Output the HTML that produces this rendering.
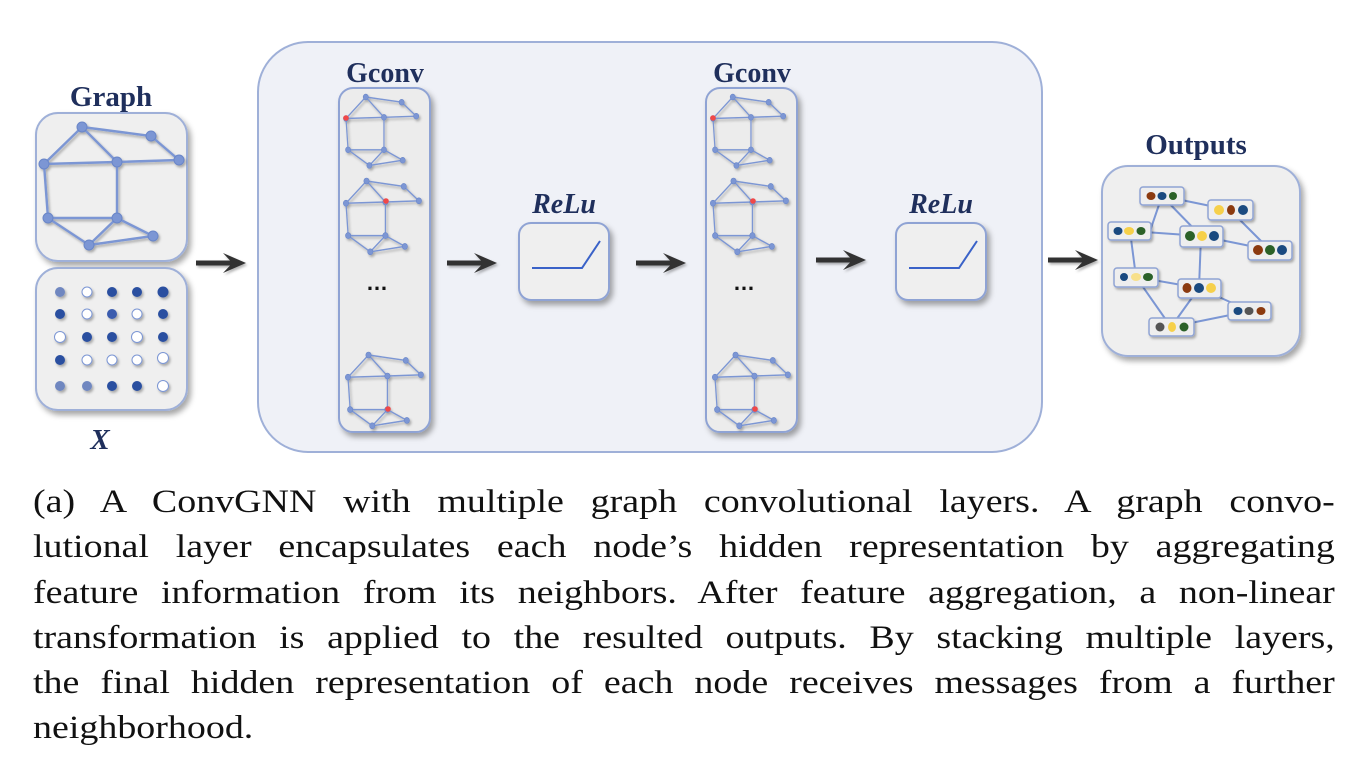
<!DOCTYPE html>
<html><head><meta charset="utf-8"><style>
body{margin:0;background:#fff;width:1358px;height:758px;overflow:hidden;position:relative}
.cap{position:absolute;left:33px;width:1132px;font-family:"Liberation Serif",serif;font-size:33px;color:#111;line-height:45.3px;transform:scaleX(1.15);transform-origin:0 0}
.cap div{text-align:justify;text-align-last:justify;height:45.3px;white-space:nowrap}
.cap div.last{text-align-last:left}
</style></head><body>
<svg width="1358" height="480" style="position:absolute;left:0;top:0" xmlns="http://www.w3.org/2000/svg">
<defs>
<filter id="sh" x="-20%" y="-20%" width="140%" height="140%"><feDropShadow dx="3" dy="4" stdDeviation="3" flood-color="#000" flood-opacity="0.35"/></filter>
<filter id="ns" x="-50%" y="-50%" width="200%" height="200%"><feDropShadow dx="1.5" dy="2" stdDeviation="1.2" flood-color="#000" flood-opacity="0.3"/></filter>
<g id="g">
<g stroke="#7b96d4" stroke-width="2.4" fill="none">
<polyline points="82,127 151,136 179,160 117,162 44,164 82,127 117,162 117,218 48,218 44,164"/>
<polyline points="48,218 89,245 117,218 153,236 89,245"/>
</g>
<g fill="#7b96d4" stroke="#6a86c8" stroke-width="1">
<circle cx="82" cy="127" r="5"/><circle cx="151" cy="136" r="5"/><circle cx="179" cy="160" r="5"/><circle cx="117" cy="162" r="5"/><circle cx="44" cy="164" r="5"/><circle cx="48" cy="218" r="5"/><circle cx="117" cy="218" r="5"/><circle cx="153" cy="236" r="5"/><circle cx="89" cy="245" r="5"/>
</g></g>
<g id="arr"><path d="M0,-2.5 L34,-2.5 L27,-10 L50,0 L27,10 L34,2.5 L0,2.5 Z" fill="#333" filter="url(#ns)"/></g>
</defs>
<rect x="258" y="42" width="784" height="410" rx="50" fill="#eff1f7" stroke="#9fb0d8" stroke-width="2"/>
<text x="111" y="106" font-family="Liberation Serif,serif" font-weight="bold" font-size="29" fill="#1f2f5c" text-anchor="middle">Graph</text>
<rect x="36" y="113" width="151" height="148" rx="22" fill="#efefef" stroke="#9fb0d8" stroke-width="2" filter="url(#sh)"/>
<use href="#g" filter="url(#ns)"/>
<rect x="36" y="268" width="151" height="142" rx="22" fill="#efefef" stroke="#9fb0d8" stroke-width="2" filter="url(#sh)"/>
<g filter="url(#ns)">
<circle cx="60" cy="292" r="5" fill="#6f87c0"/><circle cx="87" cy="292" r="5" fill="#fff" stroke="#7b96d4"/><circle cx="112" cy="292" r="5" fill="#2b4fa0"/><circle cx="137" cy="292" r="5" fill="#2b4fa0"/><circle cx="163" cy="292" r="5.5" fill="#2b4fa0"/>
<circle cx="60" cy="314" r="5" fill="#2b4fa0"/><circle cx="87" cy="314" r="5" fill="#fff" stroke="#7b96d4"/><circle cx="112" cy="314" r="5" fill="#3a5cae"/><circle cx="137" cy="314" r="5" fill="#fff" stroke="#7b96d4"/><circle cx="163" cy="314" r="5" fill="#2b4fa0"/>
<circle cx="60" cy="337" r="5.5" fill="#fff" stroke="#7b96d4"/><circle cx="87" cy="337" r="5" fill="#2b4fa0"/><circle cx="112" cy="337" r="5" fill="#2b4fa0"/><circle cx="137" cy="337" r="5.5" fill="#fff" stroke="#7b96d4"/><circle cx="163" cy="337" r="5" fill="#2b4fa0"/>
<circle cx="60" cy="360" r="5" fill="#2b4fa0"/><circle cx="87" cy="360" r="5" fill="#fff" stroke="#7b96d4"/><circle cx="112" cy="360" r="5" fill="#fff" stroke="#7b96d4"/><circle cx="137" cy="360" r="5" fill="#fff" stroke="#7b96d4"/><circle cx="163" cy="358" r="5.5" fill="#fff" stroke="#7b96d4"/>
<circle cx="60" cy="386" r="5" fill="#6f87c0"/><circle cx="87" cy="386" r="5" fill="#6f87c0"/><circle cx="112" cy="386" r="5" fill="#2b4fa0"/><circle cx="137" cy="386" r="5" fill="#2b4fa0"/><circle cx="163" cy="386" r="5.5" fill="#fff" stroke="#7b96d4"/>
</g>
<text x="100" y="449" font-family="Liberation Serif,serif" font-weight="bold" font-style="italic" font-size="29" fill="#1f2f5c" text-anchor="middle">X</text>
<use href="#arr" x="196" y="263"/><use href="#arr" x="447" y="263"/><use href="#arr" x="636" y="263"/><use href="#arr" x="816" y="260"/><use href="#arr" x="1048" y="260"/>
<g id="col">
<text x="385" y="82" font-family="Liberation Serif,serif" font-weight="bold" font-size="28" fill="#1f2f5c" text-anchor="middle">Gconv</text>
<rect x="339" y="88" width="91" height="344" rx="14" fill="#ececec" stroke="#8fa3d4" stroke-width="2" filter="url(#sh)"/>
<g filter="url(#ns)">
<use href="#g" transform="translate(346,97) scale(0.52,0.58) translate(-44,-127)"/>
<use href="#g" transform="translate(346,181) scale(0.54,0.6) translate(-44,-127)"/>
<use href="#g" transform="translate(348,355) scale(0.54,0.6) translate(-44,-127)"/>
</g>
<circle cx="346" cy="118" r="2.8" fill="#f04848"/>
<circle cx="386" cy="201" r="2.8" fill="#f04848"/>
<circle cx="388" cy="409" r="2.8" fill="#f04848"/>
<text x="377" y="290" font-family="Liberation Sans,sans-serif" font-weight="bold" font-size="22" fill="#111" text-anchor="middle">…</text>
</g>
<use href="#col" x="367"/>
<g id="relu">
<text x="564" y="213" font-family="Liberation Serif,serif" font-weight="bold" font-style="italic" font-size="28" fill="#1f2f5c" text-anchor="middle">ReLu</text>
<rect x="519" y="223" width="90" height="77" rx="12" fill="#efefef" stroke="#8fa3d4" stroke-width="2" filter="url(#sh)"/>
<polyline points="532,268 582,268 600,241" fill="none" stroke="#3a62c8" stroke-width="2"/>
</g>
<use href="#relu" x="377"/>
<text x="1196" y="154" font-family="Liberation Serif,serif" font-weight="bold" font-size="29" fill="#1f2f5c" text-anchor="middle">Outputs</text>
<rect x="1102" y="166" width="198" height="190" rx="26" fill="#efefef" stroke="#9fb0d8" stroke-width="2" filter="url(#sh)"/>
<g stroke="#7b96d4" stroke-width="2" fill="none">
<line x1="1162" y1="196" x2="1230" y2="210"/><line x1="1162" y1="196" x2="1150" y2="231"/><line x1="1162" y1="196" x2="1201" y2="236"/>
<line x1="1130" y1="231" x2="1201" y2="236"/><line x1="1201" y1="236" x2="1270" y2="250"/><line x1="1230" y1="210" x2="1270" y2="250"/>
<line x1="1130" y1="231" x2="1136" y2="277"/><line x1="1136" y1="277" x2="1199" y2="288"/><line x1="1201" y1="236" x2="1199" y2="288"/>
<line x1="1136" y1="277" x2="1171" y2="327"/><line x1="1199" y1="288" x2="1171" y2="327"/><line x1="1171" y1="327" x2="1250" y2="311"/><line x1="1199" y1="288" x2="1250" y2="311"/>
</g>
<g stroke="#8fa3d4" stroke-width="1.5" fill="#eee" filter="url(#ns)">
<rect x="1140" y="187" width="44" height="18" rx="3"/><rect x="1208" y="200" width="45" height="20" rx="3"/><rect x="1108" y="222" width="43" height="18" rx="3"/>
<rect x="1180" y="226" width="43" height="21" rx="3"/><rect x="1248" y="241" width="44" height="19" rx="3"/><rect x="1114" y="268" width="44" height="19" rx="3"/>
<rect x="1178" y="279" width="43" height="19" rx="3"/><rect x="1228" y="302" width="43" height="18" rx="3"/><rect x="1149" y="318" width="45" height="18" rx="3"/>
</g>
<g>
<ellipse cx="1151" cy="196" rx="4.5" ry="4" fill="#8b3a0f"/><ellipse cx="1162" cy="196" rx="4.5" ry="4" fill="#1a4a80"/><ellipse cx="1173" cy="196" rx="4" ry="4" fill="#2b6128"/>
<ellipse cx="1219" cy="210" rx="5" ry="5" fill="#f6d04a"/><ellipse cx="1231" cy="210" rx="4" ry="5" fill="#8b3a0f"/><ellipse cx="1243" cy="210" rx="5" ry="5" fill="#1a4a80"/>
<ellipse cx="1118" cy="231" rx="4.5" ry="4" fill="#1a4a80"/><ellipse cx="1129" cy="231" rx="5" ry="4" fill="#f6d04a"/><ellipse cx="1141" cy="231" rx="4.5" ry="4" fill="#2b6128"/>
<ellipse cx="1190" cy="236" rx="5" ry="5" fill="#2b6128"/><ellipse cx="1202" cy="236" rx="5" ry="5" fill="#f6d04a"/><ellipse cx="1214" cy="236" rx="5" ry="5" fill="#1a4a80"/>
<ellipse cx="1258" cy="250" rx="5" ry="5" fill="#8b3a0f"/><ellipse cx="1270" cy="250" rx="5" ry="5" fill="#2b6128"/><ellipse cx="1282" cy="250" rx="5" ry="5" fill="#1a4a80"/>
<ellipse cx="1124" cy="277" rx="4" ry="4" fill="#1a4a80"/><ellipse cx="1136" cy="277" rx="5" ry="4" fill="#f8e08a"/><ellipse cx="1148" cy="277" rx="5" ry="4" fill="#2b6128"/>
<ellipse cx="1187" cy="288" rx="4.5" ry="5" fill="#8b3a0f"/><ellipse cx="1199" cy="288" rx="5" ry="5" fill="#1a4a80"/><ellipse cx="1211" cy="288" rx="5" ry="5" fill="#f6d04a"/>
<ellipse cx="1238" cy="311" rx="4.5" ry="4" fill="#1a4a80"/><ellipse cx="1249" cy="311" rx="4.5" ry="4" fill="#555"/><ellipse cx="1261" cy="311" rx="4.5" ry="4" fill="#8b3a0f"/>
<ellipse cx="1160" cy="327" rx="4.5" ry="4.5" fill="#555"/><ellipse cx="1172" cy="327" rx="4" ry="5" fill="#f6d04a"/><ellipse cx="1184" cy="327" rx="4.5" ry="4.5" fill="#2b6128"/>
</g>
</svg>
<div class="cap" style="top:480px">
<div>(a) A ConvGNN with multiple graph convolutional layers. A graph convo-</div>
<div>lutional layer encapsulates each node’s hidden representation by aggregating</div>
<div>feature information from its neighbors. After feature aggregation, a non-linear</div>
<div>transformation is applied to the resulted outputs. By stacking multiple layers,</div>
<div>the final hidden representation of each node receives messages from a further</div>
<div class="last">neighborhood.</div>
</div>
</body></html>
